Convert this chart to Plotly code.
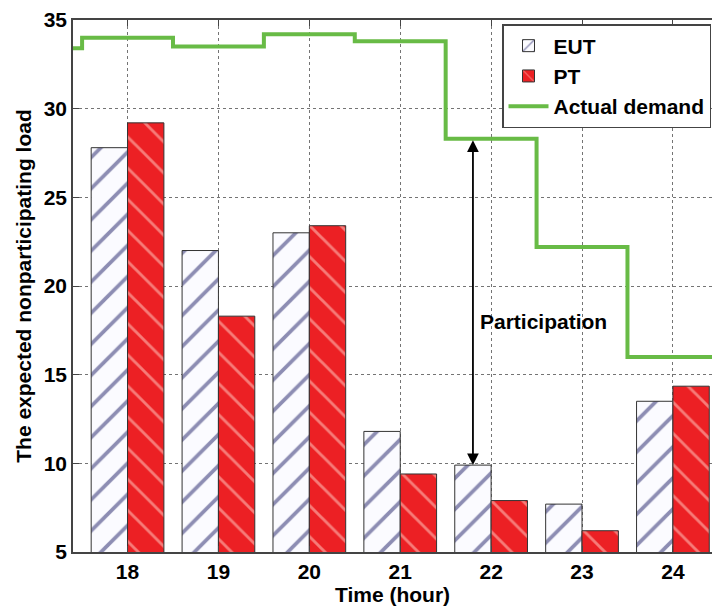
import plotly.graph_objects as go

hours = [18, 19, 20, 21, 22, 23, 24]
tick_labels = ["18", "19", "20", "21", "22", "23", "24"]
eut = [27.8, 22.0, 23.0, 11.8, 9.9, 7.7, 13.5]
pt = [29.2, 18.3, 23.4, 9.4, 7.9, 6.2, 14.35]
demand_hours = [17, 18, 19, 20, 21, 22, 23, 24]
demand = [33.4, 34.0, 33.5, 34.2, 33.8, 28.3, 22.2, 16.0]

FONT = "Liberation Sans, Arial, sans-serif"
fs = 21

# stair-step line centred on each hour
xs = [h - 0.5 for h in demand_hours] + [demand_hours[-1] + 0.5]
ys = demand + [demand[-1]]

fig = go.Figure()
fig.add_trace(go.Bar(
    x=hours, y=eut, name="EUT",
    marker=dict(color="#fbfbff", line=dict(color="#333333", width=1),
                pattern=dict(shape="/", fgcolor="#202068", bgcolor="#fbfbff",
                             size=22, solidity=0.17)),
))
fig.add_trace(go.Bar(
    x=hours, y=pt, name="PT",
    marker=dict(color="#ec2024", line=dict(color="#333333", width=1),
                pattern=dict(shape="\\", fgcolor="#ffd6cc", bgcolor="#ec2024",
                             size=22, solidity=0.13)),
))
fig.add_trace(go.Scatter(
    x=xs, y=ys, mode="lines", name="Actual demand",
    line=dict(color="#68bb46", width=4, shape="hv"),
))

arrow_x = hours[4] - 0.2
fig.add_annotation(
    x=arrow_x, y=eut[4], ax=arrow_x, ay=demand[5],
    xref="x", yref="y", axref="x", ayref="y",
    showarrow=True, arrowhead=2, arrowside="end+start", arrowsize=1.3,
    arrowwidth=1.8, arrowcolor="black", text="",
)
fig.add_annotation(
    x=22.58, y=18.0, xref="x", yref="y", text="Participation",
    showarrow=False, font=dict(family=FONT, size=fs, color="black", weight="bold"),
)

fig.update_layout(
    width=712, height=609,
    margin=dict(l=73, r=0, t=20, b=57),
    paper_bgcolor="white", plot_bgcolor="white",
    barmode="group", bargap=0.2, bargroupgap=0,
    hovermode=False,
    font=dict(family=FONT, size=fs, color="black", weight="bold"),
    showlegend=True,
    legend=dict(
        x=(502 - 73) / 639, y=1 - 4 / 532, xanchor="left", yanchor="top",
        bgcolor="white", bordercolor="#444444", borderwidth=1.5,
        font=dict(family=FONT, size=fs, color="black", weight="bold"),
        itemwidth=40, tracegroupgap=0,
    ),
    xaxis=dict(
        range=[17.4, 24.43], tickmode="array", tickvals=hours, ticktext=tick_labels,
        showline=True, linecolor="#444444", linewidth=1.5, mirror="ticks",
        ticks="inside", ticklen=6, tickcolor="#444444",
        showgrid=True, gridcolor="rgba(70,70,70,0.75)", griddash="dot", gridwidth=1,
        zeroline=False,
        title=dict(text="Time (hour)", standoff=2, font=dict(family=FONT, size=fs, weight="bold")),
        tickfont=dict(family=FONT, size=fs, weight="bold"),
    ),
    yaxis=dict(
        range=[5, 35], tickvals=[5, 10, 15, 20, 25, 30, 35],
        showline=True, linecolor="#444444", linewidth=1.5, mirror=False,
        ticks="inside", ticklen=6, tickcolor="#444444",
        showgrid=True, gridcolor="rgba(70,70,70,0.75)", griddash="dot", gridwidth=1,
        zeroline=False,
        title=dict(text="The expected nonparticipating load", standoff=6,
                   font=dict(family=FONT, size=fs, weight="bold")),
        tickfont=dict(family=FONT, size=fs, weight="bold"),
    ),
)

fig.write_html("out.html", config={"displayModeBar": False},
               post_script="document.body.style.margin='0';")
